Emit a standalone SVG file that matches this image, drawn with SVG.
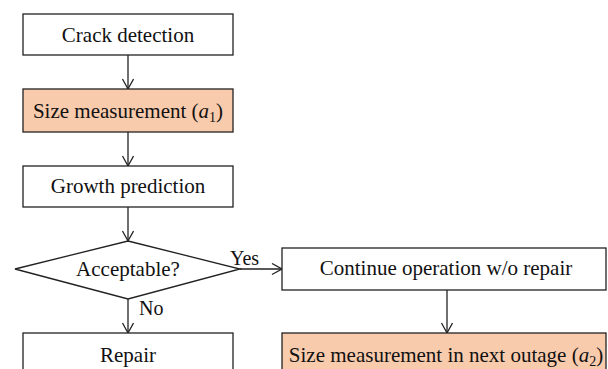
<svg xmlns="http://www.w3.org/2000/svg" width="608" height="369" viewBox="0 0 608 369">
  <style>
    .box { fill: #ffffff; stroke: #222; stroke-width: 1.3; }
    .hl { fill: #F8CBAD; }
    text { font-family: 'Liberation Serif', 'DejaVu Serif', serif; font-size: 21px; fill: #111; }
    .lbl { text-anchor: middle; }
    .tag { font-size: 20px; }
    .sub { font-size: 14px; }
    .edge { fill: none; stroke: #222; stroke-width: 1.3; marker-end: url(#arrow); }
  </style>
  <defs>
    <marker id="arrow" markerUnits="userSpaceOnUse" markerWidth="14" markerHeight="14" refX="11" refY="6" orient="auto">
      <path d="M1,0.5 L11,6 L1,11.5" fill="none" stroke="#222" stroke-width="1.3"/>
    </marker>
  </defs>

  <g id="connectors">
    <line class="edge" x1="128" y1="55" x2="128" y2="89"/>
    <line class="edge" x1="128" y1="132" x2="128" y2="166"/>
    <line class="edge" x1="128" y1="207" x2="128" y2="241"/>
    <line class="edge" x1="240" y1="269" x2="282" y2="269"/>
    <line class="edge" x1="128" y1="299" x2="128" y2="333"/>
    <line class="edge" x1="447" y1="290" x2="447" y2="333"/>
    <text class="tag" x="230" y="265">Yes</text>
    <text class="tag" x="139" y="315">No</text>
  </g>

  <g id="crack-detection">
    <rect class="box" x="23" y="14" width="210" height="41"/>
    <text class="lbl" x="128" y="41.5">Crack detection</text>
  </g>

  <g id="size-measurement">
    <rect class="box hl" x="23" y="89" width="210" height="43"/>
    <text class="lbl" x="128" y="118">Size measurement (<tspan font-style="italic">a</tspan><tspan class="sub" dy="4">1</tspan><tspan dy="-4">)</tspan></text>
  </g>

  <g id="growth-prediction">
    <rect class="box" x="23" y="166" width="210" height="41"/>
    <text class="lbl" x="128" y="193">Growth prediction</text>
  </g>

  <g id="acceptable">
    <polygon class="box" points="128,241 240,269 128,299 15,269"/>
    <text class="lbl" x="128" y="276">Acceptable?</text>
  </g>

  <g id="continue-operation">
    <rect class="box" x="282" y="248" width="324" height="42"/>
    <text class="lbl" x="446" y="275">Continue operation w/o repair</text>
  </g>

  <g id="repair">
    <rect class="box" x="23" y="333" width="210" height="40"/>
    <text class="lbl" x="128" y="362">Repair</text>
  </g>

  <g id="size-measurement-next">
    <rect class="box hl" x="282" y="333" width="324" height="40"/>
    <text class="lbl" x="446" y="362">Size measurement in next outage (<tspan font-style="italic">a</tspan><tspan class="sub" dy="4">2</tspan><tspan dy="-4">)</tspan></text>
  </g>
</svg>
